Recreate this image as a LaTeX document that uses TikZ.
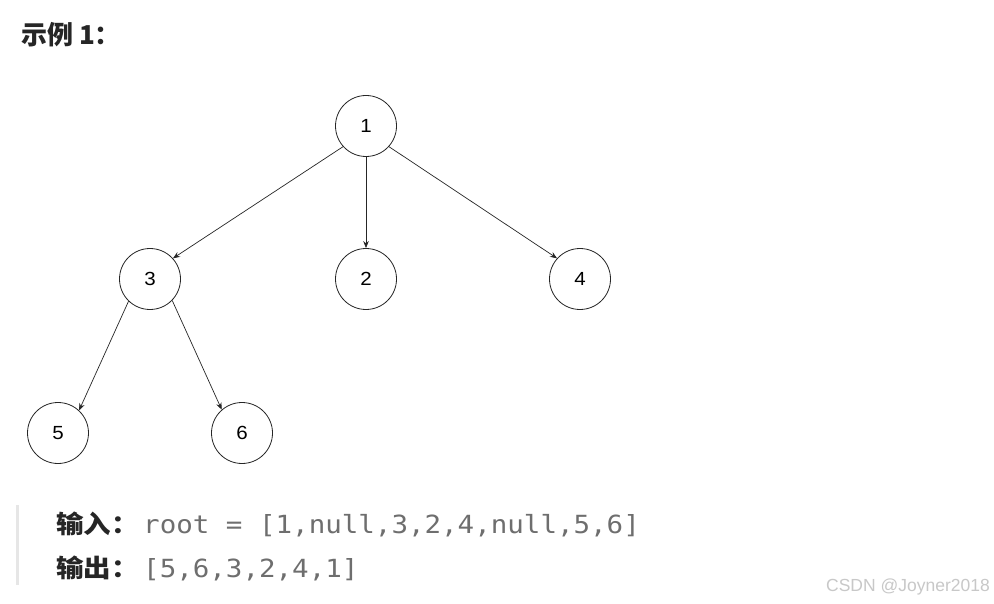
\documentclass[tikz,border=0pt]{standalone}
\usepackage{fontspec}
\setmainfont{Liberation Sans}
\newfontfamily\cjk{Noto Sans CJK SC}
\newfontfamily\cjkwide[FakeStretch=1.1]{Noto Sans CJK SC}
\newfontfamily\codefont[FakeStretch=1.1]{DejaVu Sans Mono}
\newfontfamily\numfont[FakeStretch=1.08]{Liberation Sans}
\usetikzlibrary{arrows.meta}
\definecolor{titlec}{HTML}{262626}
\definecolor{codec}{HTML}{6E6E6E}
\definecolor{barc}{HTML}{E6E6E6}
\definecolor{wmc}{HTML}{C8C8C8}
\tikzset{
  tnode/.style={circle,draw=black!85,line width=0.8pt,minimum size=61pt,inner sep=0pt,font=\numfont\fontsize{19}{21}\selectfont},
  tedge/.style={draw=black!85,line width=0.7pt,-{Stealth[length=7pt,width=5.5pt]}}
}
\begin{document}
\begin{tikzpicture}[x=1pt,y=-1pt]
\useasboundingbox (0,0) rectangle (994,604);
\fill[white] (0,0) rectangle (994,604);
\node[anchor=base west,inner sep=0pt,text=titlec] (title) at (21,45) {\cjk\bfseries\fontsize{26}{28}\selectfont 示例 1：};
\node[tnode] (n1) at (366,126) {1};
\node[tnode] (n3) at (150,279) {3};
\node[tnode] (n2) at (366,279) {2};
\node[tnode] (n4) at (580,279) {4};
\node[tnode] (n5) at (58,433) {5};
\node[tnode] (n6) at (242,433) {6};
\draw[tedge] (n1.222) -- (n3.42);
\draw[tedge] (n1) -- (n2);
\draw[tedge] (n1.318) -- (n4.138);
\draw[tedge] (n3.226) -- (n5.47);
\draw[tedge] (n3.316) -- (n6.131);
\fill[barc] (16,505) rectangle (19,585);
\node[anchor=base west,inner sep=0pt,text=titlec] (inl) at (56,533) {\cjkwide\bfseries\fontsize{25}{28}\selectfont 输入：};
\node[anchor=base west,inner sep=0pt,text=codec] (inc) at (143,533) {\codefont\fontsize{25}{28}\selectfont root = [1,null,3,2,4,null,5,6]};
\node[anchor=base west,inner sep=0pt,text=titlec] (outl) at (56,577) {\cjkwide\bfseries\fontsize{25}{28}\selectfont 输出：};
\node[anchor=base west,inner sep=0pt,text=codec] (outc) at (143,577) {\codefont\fontsize{25}{28}\selectfont [5,6,3,2,4,1]};
\node[anchor=base east,inner sep=0pt,text=wmc] (wm) at (990,591) {\fontsize{17.5}{20}\selectfont CSDN @Joyner2018};
\end{tikzpicture}
\end{document}
